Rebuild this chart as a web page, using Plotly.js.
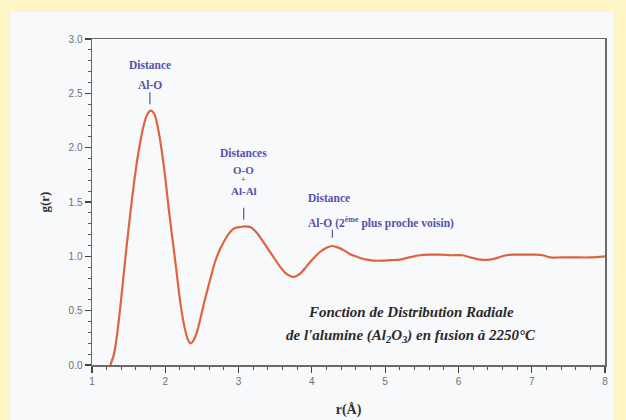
<!DOCTYPE html>
<html>
<head>
<meta charset="utf-8">
<script src="https://cdn.plot.ly/plotly-3.0.1.min.js"></script>
<style>html,body{margin:0;padding:0;background:#fdf5c6;}#chart{width:626px;height:420px;}</style>
</head>
<body>
<div id="chart"></div>
<script>
// radial distance r (Å)
const rValues = [1.25,1.30,1.35,1.40,1.45,1.50,1.55,1.60,1.65,1.70,1.75,1.80,1.85,1.90,1.95,2.00,2.05,2.10,2.15,2.20,2.25,2.30,2.34,2.38,2.43,2.48,2.54,2.61,2.68,2.75,2.82,2.88,2.95,3.02,3.09,3.16,3.23,3.30,3.38,3.47,3.56,3.65,3.75,3.84,3.93,4.02,4.11,4.20,4.28,4.36,4.45,4.52,4.60,4.68,4.75,4.85,4.95,5.07,5.20,5.33,5.47,5.60,5.75,5.90,6.06,6.16,6.30,6.43,6.55,6.65,6.75,6.90,7.05,7.15,7.25,7.40,7.60,7.80,8.00];
// g(r)
const gValues = [0,0.10,0.32,0.62,0.95,1.26,1.55,1.81,2.02,2.19,2.30,2.34,2.31,2.18,1.98,1.72,1.42,1.15,0.88,0.60,0.39,0.25,0.20,0.22,0.30,0.43,0.60,0.78,0.95,1.07,1.16,1.22,1.26,1.27,1.275,1.27,1.23,1.17,1.09,1.00,0.91,0.84,0.81,0.84,0.91,0.98,1.04,1.08,1.095,1.08,1.05,1.02,1.00,0.98,0.97,0.96,0.96,0.965,0.97,0.99,1.01,1.015,1.015,1.01,1.01,0.99,0.97,0.97,0.99,1.01,1.015,1.015,1.015,1.01,0.99,0.99,0.99,0.99,1.00];

const xTickVals = [1,2,3,4,5,6,7,8];
const yTickVals = [0,0.5,1.0,1.5,2.0,2.5,3.0];
const yTickText = ['0.0','0.5','1.0','1.5','2.0','2.5','3.0'];

// peak labels
const peakR = [1.79, 3.07, 4.28];
const peakTickBottom = [2.40, 1.336, 1.17];
const peakTickTop = [2.51, 1.447, 1.244];
const labelLines = [
  {r: 1.79, g: 2.765, text: 'Distance', anchor: 'center', size: 11.5},
  {r: 1.79, g: 2.58, text: 'Al-O', anchor: 'center', size: 11.5},
  {r: 3.07, g: 1.954, text: 'Distances', anchor: 'center', size: 11.5},
  {r: 3.07, g: 1.79, text: 'O-O', anchor: 'center', size: 11},
  {r: 3.07, g: 1.705, text: '+', anchor: 'center', size: 8},
  {r: 3.07, g: 1.60, text: 'Al-Al', anchor: 'center', size: 11},
  {r: 3.92, g: 1.539, text: 'Distance', anchor: 'left', size: 11.5},
  {r: 3.92, g: 1.309, text: 'Al-O (2<sup>ème</sup> plus proche voisin)', anchor: 'left', size: 11.5}
];
const captionLines = [
  'Fonction de Distribution Radiale',
  "de l'alumine (Al<sub>2</sub>O<sub>3</sub>) en fusion à 2250°C"
];
const captionR = 5.35;
const captionG = [0.49, 0.27];

const blue = '#5651aa';
const annotations = labelLines.map(l => ({
  x: l.r, y: l.g, xref: 'x', yref: 'y', text: '<b>' + l.text + '</b>', showarrow: false,
  xanchor: l.anchor, yanchor: 'middle',
  font: {family: 'Liberation Serif, serif', size: l.size, color: blue}
}));
captionLines.forEach((t, i) => annotations.push({
  x: captionR, y: captionG[i], xref: 'x', yref: 'y', text: '<b><i>' + t + '</i></b>',
  showarrow: false, xanchor: 'center', yanchor: 'middle',
  font: {family: 'Liberation Serif, serif', size: 15, color: '#2a2a2a'}
}));

const shapes = [{
  type: 'rect', xref: 'paper', yref: 'paper',
  x0: -0.16, x1: 1.0175, y0: -0.17, y1: 1.083,
  fillcolor: '#f8f9fb', line: {width: 0}, layer: 'below'
}];
peakR.forEach((r, i) => shapes.push({
  type: 'line', xref: 'x', yref: 'y', x0: r, x1: r, y0: peakTickBottom[i], y1: peakTickTop[i],
  line: {color: blue, width: 1.2}
}));

const trace = {
  x: rValues, y: gValues, type: 'scatter', mode: 'lines',
  line: {color: '#dc6540', width: 2.2, shape: 'spline', smoothing: 0.8},
  hoverinfo: 'skip'
};

const layout = {
  width: 626, height: 420,
  margin: {l: 92, r: 21, t: 39, b: 55, pad: 0},
  paper_bgcolor: '#fdf5c6',
  plot_bgcolor: '#f8f9fb',
  showlegend: false,
  xaxis: {
    range: [1, 8], tickvals: xTickVals, ticktext: xTickVals.map(String),
    showgrid: false, zeroline: false,
    showline: true, linecolor: '#6a6a6a', linewidth: 1.5, mirror: true,
    ticks: 'outside', ticklen: 6, tickwidth: 1.2, tickcolor: '#444',
    minor: {dtick: 0.2, ticks: 'outside', ticklen: 3, tickwidth: 1, tickcolor: '#555'},
    tickfont: {family: 'Liberation Sans, sans-serif', size: 10, color: '#6f6f6f'},
    title: {text: '<b>r(Å)</b>', standoff: 18, font: {family: 'Liberation Serif, serif', size: 14, color: '#333'}},
    fixedrange: true
  },
  yaxis: {
    range: [0, 3], tickvals: yTickVals, ticktext: yTickText,
    showgrid: false, zeroline: false,
    showline: true, linecolor: '#6a6a6a', linewidth: 1.5, mirror: true,
    ticks: 'outside', ticklen: 6, tickwidth: 1.2, tickcolor: '#444',
    minor: {dtick: 0.1, ticks: 'outside', ticklen: 3, tickwidth: 1, tickcolor: '#555'},
    tickfont: {family: 'Liberation Sans, sans-serif', size: 10, color: '#6f6f6f'},
    title: {text: '<b>g(r)</b>', standoff: 16, font: {family: 'Liberation Serif, serif', size: 13, color: '#333'}},
    fixedrange: true
  },
  annotations: annotations,
  shapes: shapes
};

Plotly.newPlot('chart', [trace], layout, {displayModeBar: false, staticPlot: true});
</script>
</body>
</html>
